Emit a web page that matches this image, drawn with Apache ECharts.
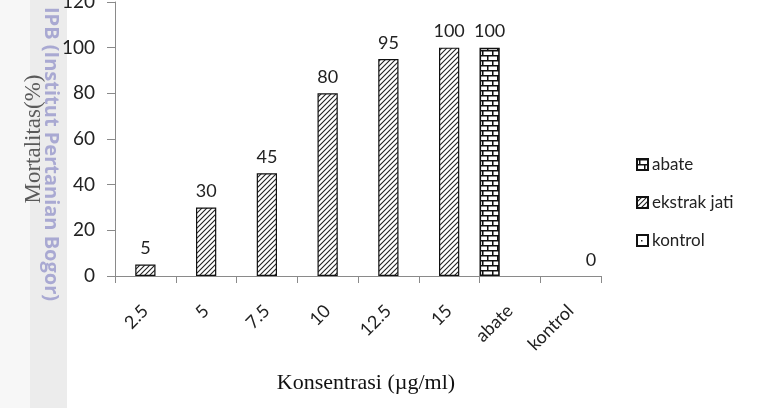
<!DOCTYPE html>
<html><head><meta charset="utf-8">
<script src="https://cdn.jsdelivr.net/npm/echarts@6/dist/echarts.min.js"></script>
<style>html,body{margin:0;padding:0;background:#fff}#c{width:758px;height:408px}</style>
</head><body><div id="c"></div>
<script>
const categories = ['2.5', '5', '7.5', '10', '12.5', '15', 'abate', 'kontrol'];
const abateValues = [null, null, null, null, null, null, 100, null];
const ekstrakValues = [5, 30, 45, 80, 95, 100, null, null];
const kontrolValues = [null, null, null, null, null, null, null, 0];
const seriesNames = ['abate', 'ekstrak jati', 'kontrol'];
const yTicks = {min: 0, max: 120, interval: 20};

function mk(w, h, draw) {
  const c = document.createElement('canvas'); c.width = w; c.height = h;
  const x = c.getContext('2d'); x.fillStyle = '#fff'; x.fillRect(0, 0, w, h);
  draw(x); return c;
}
const hatch = mk(5, 5, x => {
  x.strokeStyle = '#222'; x.lineWidth = 1.1;
  x.beginPath(); x.moveTo(-1, 6); x.lineTo(6, -1); x.moveTo(-1, 1); x.lineTo(1, -1); x.moveTo(4, 6); x.lineTo(6, 4); x.stroke();
});
const brick = mk(10, 10, x => {
  x.fillStyle = '#111';
  x.fillRect(0, 0, 10, 1.5); x.fillRect(0, 5, 10, 1.5);
  x.fillRect(2, 0, 1.5, 5); x.fillRect(7, 5, 1.5, 5);
});
const dots = mk(9, 9, x => { x.fillStyle = '#222'; x.fillRect(4, 5, 1.5, 1.5); });

const labelStyle = {show: true, position: 'top', distance: 7, fontFamily: 'Lato', fontSize: 18, color: '#222'};
const kontrolData = kontrolValues.map(v => v === 0 ? {value: v, itemStyle: {borderWidth: 0}} : v);
const chart = echarts.init(document.getElementById('c'));
chart.setOption({
  animation: false,
  graphic: [
    {type: 'rect', z: -10, shape: {x: 0, y: 0, width: 30, height: 408}, style: {fill: '#f7f7f7'}},
    {type: 'rect', z: -10, shape: {x: 30, y: 0, width: 37, height: 408}, style: {fill: '#ececec'}},
    {type: 'text', z: 10, x: 51, y: 154, rotation: -Math.PI / 2,
     style: {text: 'IPB (Institut Pertanian Bogor)', fontFamily: 'Open Sans', fontWeight: 'bold', fontSize: 20,
             fill: '#a9a9d2', align: 'center', verticalAlign: 'middle'}}
  ],
  grid: {left: 115, right: 157, top: 2, bottom: 132, outerBoundsMode: 'none', containLabel: false},
  legend: {
    orient: 'vertical', left: 631, top: 151, itemGap: 21, itemWidth: 11, itemHeight: 11, icon: 'rect',
    textStyle: {fontFamily: 'Lato', fontSize: 17, color: '#222', padding: [0, 0, 0, -1]},
    data: seriesNames
  },
  xAxis: {
    type: 'category', data: categories,
    axisLine: {lineStyle: {color: '#8a8a8a', width: 1}},
    axisTick: {show: true, length: 7, lineStyle: {color: '#8a8a8a'}},
    axisLabel: {rotate: 45, margin: 32, fontFamily: 'Lato', fontSize: 18, color: '#222'},
    name: 'Konsentrasi (µg/ml)', nameLocation: 'middle', nameGap: 96,
    nameTextStyle: {fontFamily: 'Liberation Serif', fontSize: 22, color: '#111', padding: [0, 0, 0, 16]}
  },
  yAxis: {
    type: 'value', min: yTicks.min, max: yTicks.max, interval: yTicks.interval,
    splitLine: {show: false},
    axisLine: {show: true, lineStyle: {color: '#8a8a8a', width: 1}},
    axisTick: {show: true, inside: false, length: 8, lineStyle: {color: '#8a8a8a'}},
    axisLabel: {margin: 20, fontFamily: 'Lato', fontSize: 19, color: '#222'},
    name: 'Mortalitas(%)', nameLocation: 'middle', nameGap: 70, nameRotate: 90,
    nameTextStyle: {fontFamily: 'Liberation Serif', fontSize: 23, color: '#5a5a5a'}
  },
  series: [
    {name: seriesNames[0], type: 'bar', data: abateValues, barGap: '0%', barCategoryGap: '0%',
     itemStyle: {color: {image: brick, repeat: 'repeat'}, borderColor: '#111', borderWidth: 1.6}, label: labelStyle},
    {name: seriesNames[1], type: 'bar', data: ekstrakValues, barGap: '0%', barCategoryGap: '0%',
     itemStyle: {color: {image: hatch, repeat: 'repeat'}, borderColor: '#111', borderWidth: 1.2}, label: labelStyle},
    {name: seriesNames[2], type: 'bar', data: kontrolData, barGap: '0%', barCategoryGap: '0%',
     itemStyle: {color: {image: dots, repeat: 'repeat'}, borderColor: '#111', borderWidth: 1.2}, label: labelStyle}
  ]
});
</script></body></html>
